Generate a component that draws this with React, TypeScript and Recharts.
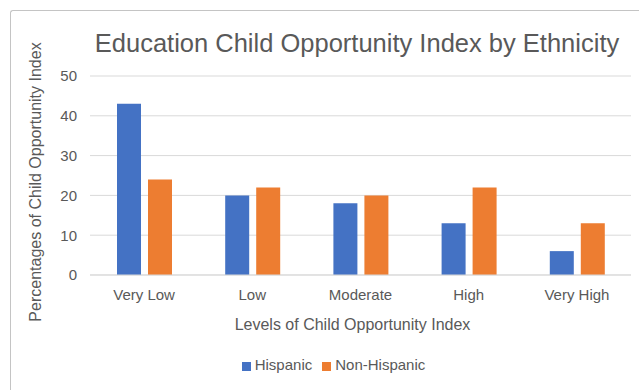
import React from "react";
import { BarChart, Bar, XAxis, YAxis, CartesianGrid, Legend } from "recharts";

const categories = ["Very Low", "Low", "Moderate", "High", "Very High"];
const hispanic = [43, 20, 18, 13, 6];
const nonHispanic = [24, 22, 20, 22, 13];
const yTicks = [0, 10, 20, 30, 40, 50];

const data = categories.map((c, i) => ({
  level: c,
  Hispanic: hispanic[i],
  "Non-Hispanic": nonHispanic[i],
}));

const FONT = "'Liberation Sans', Arial, Helvetica, sans-serif";
const TEXT = "#595959";

const YLabel = (props: any) => {
  const vb = props.viewBox || { x: 0, y: 0, width: 0, height: 0 };
  const cx = 35.5;
  const cy = vb.y + vb.height / 2 + 6.5;
  return (
    <text
      x={cx}
      y={cy}
      transform={`rotate(-90, ${cx}, ${cy})`}
      textAnchor="middle"
      dominantBaseline="central"
      fill={TEXT}
      fontSize={16}
      fontFamily={FONT}
    >
      Percentages of Child Opportunity Index
    </text>
  );
};

export default function App() {
  return (
    <div style={{ position: "absolute", left: 0, top: 0, width: 639, height: 390, background: "#fff", overflow: "hidden" }}>
      <div
        style={{
          position: "absolute",
          left: 10,
          top: 10,
          width: 700,
          height: 500,
          borderTop: "1px solid #c4c4c4",
          borderLeft: "1px solid #c4c4c4",
          borderTopLeftRadius: 3,
        }}
      />
      <div
        style={{
          position: "absolute",
          left: 57,
          top: 28,
          width: 600,
          textAlign: "center",
          fontFamily: FONT,
          fontSize: 25.5,
          color: TEXT,
          lineHeight: "30px",
          whiteSpace: "nowrap",
        }}
      >
        Education Child Opportunity Index by Ethnicity
      </div>
      <div style={{ position: "absolute", left: 0, top: 0 }}>
        <BarChart
          width={639}
          height={390}
          data={data}
          margin={{ top: 76, right: 8, left: 0, bottom: 10 }}
          barSize={24}
          barGap={7}
        >
          <CartesianGrid vertical={false} stroke="#d9d9d9" />
          <XAxis
            dataKey="level"
            axisLine={{ stroke: "#d9d9d9" }}
            tickLine={false}
            tickSize={0}
            tickMargin={14}
            height={80}
            tick={{ fill: TEXT, fontSize: 15, fontFamily: FONT }}
            label={{
              value: "Levels of Child Opportunity Index",
              position: "insideBottom",
              offset: 25,
              dx: -8,
              fill: TEXT,
              fontSize: 16,
              fontFamily: FONT,
            }}
          />
          <YAxis
            width={90}
            domain={[0, 50]}
            ticks={yTicks}
            axisLine={false}
            tickLine={false}
            tickSize={0}
            tickMargin={13}
            tick={{ fill: TEXT, fontSize: 15, fontFamily: FONT }}
            label={<YLabel />}
          />
          <Legend
            verticalAlign="bottom"
            align="center"
            iconType="square"
            iconSize={9}
            formatter={(value: string) => (
              <span style={{ color: TEXT, fontSize: 15, fontFamily: FONT }}>{value}</span>
            )}
            wrapperStyle={{ left: 46, width: 585, height: 25, lineHeight: "20px" }}
          />
          <Bar dataKey="Hispanic" fill="#4472c4" isAnimationActive={false} />
          <Bar dataKey="Non-Hispanic" fill="#ed7d31" isAnimationActive={false} />
        </BarChart>
      </div>
    </div>
  );
}
